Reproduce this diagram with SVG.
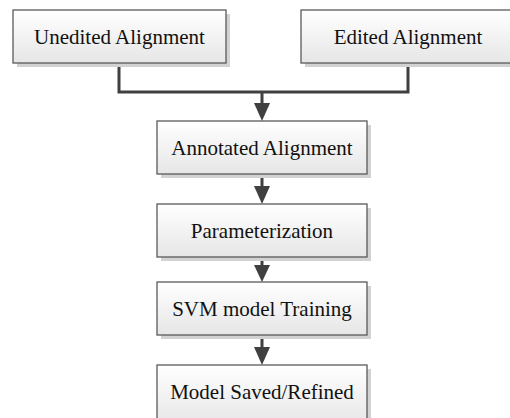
<svg xmlns="http://www.w3.org/2000/svg" width="510" height="418" viewBox="0 0 510 418">
<defs>
<linearGradient id="fill" x1="0" y1="0" x2="0" y2="1">
<stop offset="0" stop-color="#ffffff"/>
<stop offset="1" stop-color="#e6e6e6"/>
</linearGradient>
<marker id="arr" viewBox="0 0 16 17" refX="8" refY="17" markerWidth="16" markerHeight="17" markerUnits="userSpaceOnUse" orient="auto-start-reverse">
<path d="M0,0 L16,0 L8,17 Z" fill="#404040"/>
</marker>
</defs>
<style>
.shadow{fill:#d2d2d2}
.box{fill:url(#fill);stroke:#5a5a5a;stroke-width:1.3}
.lbl{font-family:"Liberation Serif","Times New Roman",serif;font-size:21px;fill:#111;text-anchor:middle}
.conn{fill:none;stroke:#404040;stroke-width:3}
</style>
<rect width="510" height="418" fill="#ffffff"/>
<g id="connectors">
<path class="conn" d="M119,63 V92 H408 V63"/>
<path class="conn" d="M262,92 V104"/>
<path d="M254,103 L270,103 L262,121 Z" fill="#404040"/>
<path class="conn" d="M262,174 V187"/>
<path d="M254,186 L270,186 L262,204 Z" fill="#404040"/>
<path class="conn" d="M262,257 V266"/>
<path d="M254,265 L270,265 L262,282 Z" fill="#404040"/>
<path class="conn" d="M262,335 V348"/>
<path d="M254,347 L270,347 L262,365 Z" fill="#404040"/>
</g>
<g id="unedited">
<rect class="shadow" x="17" y="14" width="213" height="53"/>
<rect class="box" x="13" y="10" width="213" height="53"/>
<text class="lbl" x="119.5" y="43.5">Unedited Alignment</text>
</g>
<g id="edited">
<rect class="shadow" x="305" y="14" width="220" height="53"/>
<rect class="box" x="301" y="10" width="220" height="53"/>
<text class="lbl" x="408" y="43.5">Edited Alignment</text>
</g>
<g id="annotated">
<rect class="shadow" x="161" y="125" width="210" height="53"/>
<rect class="box" x="157" y="121" width="210" height="53"/>
<text class="lbl" x="262" y="154.5">Annotated Alignment</text>
</g>
<g id="param">
<rect class="shadow" x="161" y="208" width="210" height="53"/>
<rect class="box" x="157" y="204" width="210" height="53"/>
<text class="lbl" x="262" y="237.5">Parameterization</text>
</g>
<g id="svm">
<rect class="shadow" x="161" y="286" width="210" height="53"/>
<rect class="box" x="157" y="282" width="210" height="53"/>
<text class="lbl" x="262" y="315.5">SVM model Training</text>
</g>
<g id="model">
<rect class="shadow" x="161" y="369" width="210" height="60"/>
<rect class="box" x="157" y="365" width="210" height="60"/>
<text class="lbl" x="262" y="399">Model Saved/Refined</text>
</g>
</svg>
